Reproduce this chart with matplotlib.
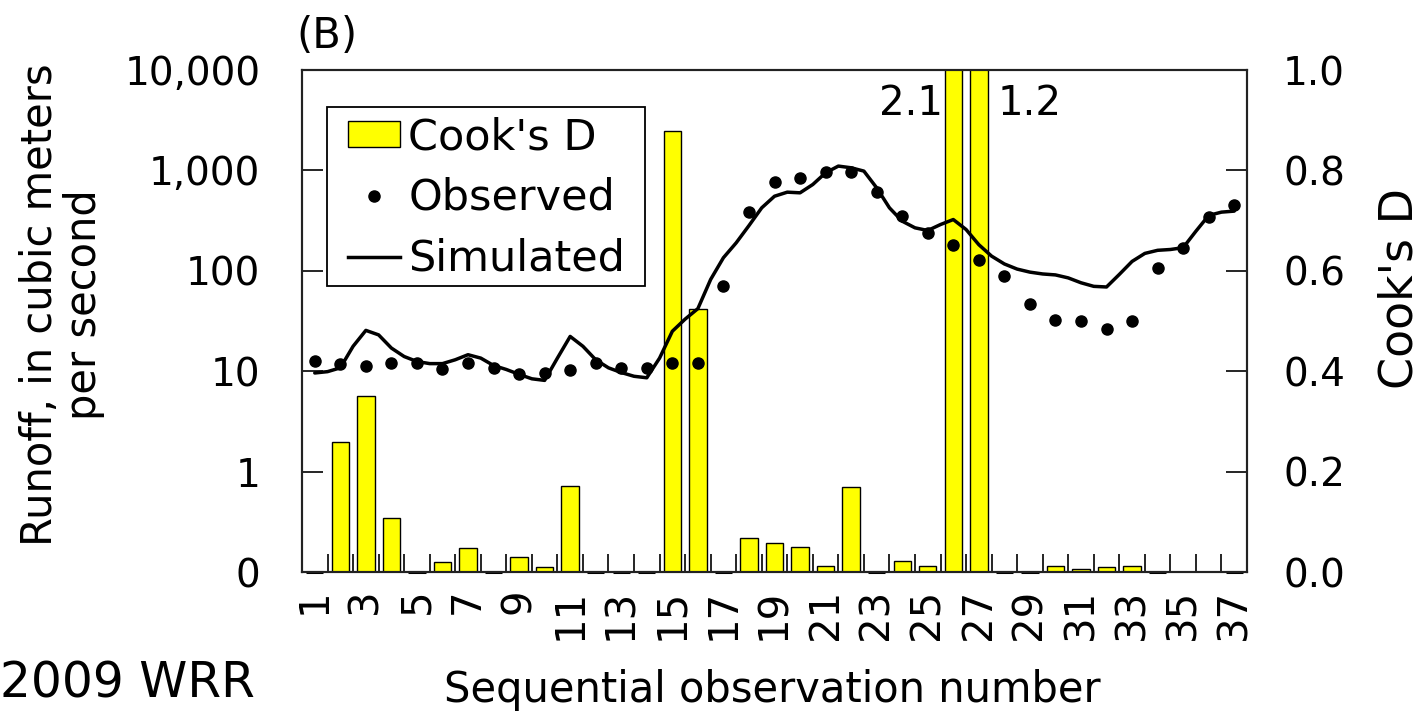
import numpy as np
import matplotlib
matplotlib.use("Agg")
import matplotlib.pyplot as plt
from matplotlib.ticker import FixedLocator, NullLocator
from matplotlib.patches import Patch, Rectangle
from matplotlib.lines import Line2D

# ---------------- data ----------------
obs_number = list(range(1, 38))
cooks_d = [0.0, 0.259, 0.351, 0.108, 0.0, 0.019, 0.047, 0.0, 0.029, 0.009,
           0.172, 0.0, 0.0, 0.0, 0.879, 0.524, 0.0, 0.067, 0.057, 0.05,
           0.012, 0.17, 0.0, 0.022, 0.012, 2.1, 1.2, 0.0, 0.0, 0.012,
           0.005, 0.009, 0.012, 0.0, np.nan, np.nan, 0.0]
observed = [12.5, 11.9, 11.2, 12.2, 12.2, 10.5, 12.2, 10.8, 9.4, 9.6,
            10.2, 12.2, 10.8, 10.8, 12.2, 12.2, 71, 384, 771, 832,
            961, 961, 607, 350, 239, 182, 127, 88, 47, 32.6,
            31.4, 26.4, 31.4, 107, 170, 345, 448]
sim_x = [1, 1.5, 2, 2.5, 3, 3.5, 4, 4.5, 5, 5.5, 6, 6.5, 7, 7.5, 8, 8.5, 9, 9.5,
         10, 10.5, 11, 11.5, 12, 12.5, 13, 13.5, 14, 14.5, 15, 15.5, 16, 16.5,
         17, 17.5, 18, 18.5, 19, 19.5, 20, 20.5, 21, 21.5, 22, 22.5, 23, 23.5,
         24, 24.5, 25, 25.5, 26, 26.5, 27, 27.5, 28, 28.5, 29, 29.5, 30, 30.5,
         31, 31.5, 32, 32.5, 33, 33.5, 34, 34.5, 35, 35.5, 36, 36.5, 37]
simulated = [9.6, 9.9, 10.8, 17.7, 25.5, 23, 17, 14, 12.5, 11.9, 11.9, 13,
             14.6, 13.5, 11.4, 10.4, 9.3, 8.4, 8.1, 13.5, 22.2, 17.7, 13,
             10.8, 9.7, 8.9, 8.6, 13.5, 25, 33, 42, 82, 135, 190, 282, 424,
             553, 607, 598, 724, 946, 1104, 1062, 984, 671, 424, 312, 268,
             252, 289, 324, 258, 182, 140, 117, 104, 97, 93, 91, 85, 76, 70,
             69, 92, 124, 149, 160, 163, 170, 248, 356, 384, 393]
runoff_ticks = [0.1, 1, 10, 100, 1000, 10000]
runoff_ticklabels = ["0", "1", "10", "100", "1,000", "10,000"]
cook_ticks = [0.0, 0.2, 0.4, 0.6, 0.8, 1.0]
x_ticklabels = [str(n) for n in obs_number[::2]]
legend_labels = ["Cook's D", "Observed", "Simulated"]

# ---------------- figure ----------------
plt.rcParams['font.family'] = ['DejaVu Sans']
fig = plt.figure(figsize=(14.21, 7.21), dpi=100)
L, R, T, B = 302, 1247, 70, 572
W, H = 1421, 721
ax = fig.add_axes([L / W, (H - B) / H, (R - L) / W, (B - T) / H])
ax2 = ax.twinx()

tick_fs = 28

def ax_fx(px):
    return (px - L) / (R - L)

def ax_fy(py):
    return (B - py) / (B - T)

# Cook's D bars (drawn below)
bars = ax.bar(obs_number, cooks_d, width=0.68, color='#ffff00',
              edgecolor='black', linewidth=1.0, zorder=2)
for patch, d in zip(bars.patches, cooks_d):
    if d == 0:
        patch.set_clip_on(False)
        patch.set_linewidth(2.2)
ax.set_ylim(0, 1.0)
ax.set_xlim(0.5, 37.5)
ax.yaxis.tick_right()
ax.set_yticks(cook_ticks)
ax.set_yticklabels([f"{t:.1f}" for t in cook_ticks])
ax.tick_params(axis='y', direction='in', length=15, width=1.2,
               labelsize=tick_fs, pad=26)

# annotate clipped bars
for xi, d in zip(obs_number, cooks_d):
    if d == d and d > 1.0:
        if xi == 26:
            ax.text(xi - 0.42, 0.932, f"{d:.1f}", ha='right', va='center',
                    fontsize=29)
        else:
            ax.text(xi + 0.72, 0.932, f"{d:.1f}", ha='left', va='center',
                    fontsize=29)

# x axis ticks
ax.xaxis.set_major_locator(FixedLocator(obs_number[::2]))
ax.set_xticklabels(x_ticklabels, rotation=90)
ax.xaxis.set_minor_locator(FixedLocator([i + 0.5 for i in obs_number[:-1]]))
ax.tick_params(axis='x', which='major', length=0, labelsize=29, pad=12)
ax.tick_params(axis='x', which='minor', direction='in', length=13, width=1.2)

# runoff (log) axis on the left
ax2.set_yscale('log')
ax2.set_ylim(0.1, 10000)
ax2.plot(sim_x, simulated, color='black', lw=2.5, zorder=3,
         solid_joinstyle='round', solid_capstyle='round')
ax2.plot(obs_number, observed, 'o', color='black', ms=8, zorder=4)
ax2.yaxis.tick_left()
ax2.yaxis.set_major_locator(FixedLocator(runoff_ticks))
ax2.yaxis.set_minor_locator(NullLocator())
ax2.set_yticklabels(runoff_ticklabels)
ax2.tick_params(axis='y', direction='in', length=15, width=1.2,
                labelsize=tick_fs, pad=30)

for a in (ax, ax2):
    for s in a.spines.values():
        s.set_linewidth(1.5)
        s.set_color('#222222')

# axis labels and texts
fig.text(62 / W, 1 - 305 / H, "Runoff, in cubic meters\nper second",
         rotation=90, ha='center', va='center', fontsize=30, linespacing=1.05)
fig.text(1400 / W, 1 - 288 / H, "Cook's D", rotation=90, ha='center',
         va='center', fontsize=33)
fig.text(772 / W, 1 - 690 / H, "Sequential observation number",
         ha='center', va='center', fontsize=30)
fig.text(296 / W, 1 - 36 / H, "(B)", ha='left', va='center', fontsize=30)
fig.text(0.0, 1 - 683 / H, "2009 WRR", ha='left', va='center', fontsize=35)

# legend: frame drawn as its own box, entries placed inside it
frame = Rectangle((ax_fx(326.7), ax_fy(285.7)),
                  ax_fx(645) - ax_fx(326.7), ax_fy(107.3) - ax_fy(285.7),
                  transform=ax2.transAxes, facecolor='white',
                  edgecolor='black', linewidth=1.3, zorder=9)
ax2.add_patch(frame)
handles = [Patch(facecolor='#ffff00', edgecolor='black', linewidth=1.0),
           Line2D([], [], marker='o', ls='none', color='black', ms=8),
           Line2D([], [], color='black', lw=2.5)]
leg = ax2.legend(handles, legend_labels, loc='upper left',
                 bbox_to_anchor=(ax_fx(348), ax_fy(116)),
                 borderaxespad=0, borderpad=0, fontsize=31, frameon=False,
                 handlelength=1.2, handleheight=0.55, handletextpad=0.2,
                 labelspacing=0.44)
leg.set_zorder(10)

fig.savefig("out.png", dpi=100)
